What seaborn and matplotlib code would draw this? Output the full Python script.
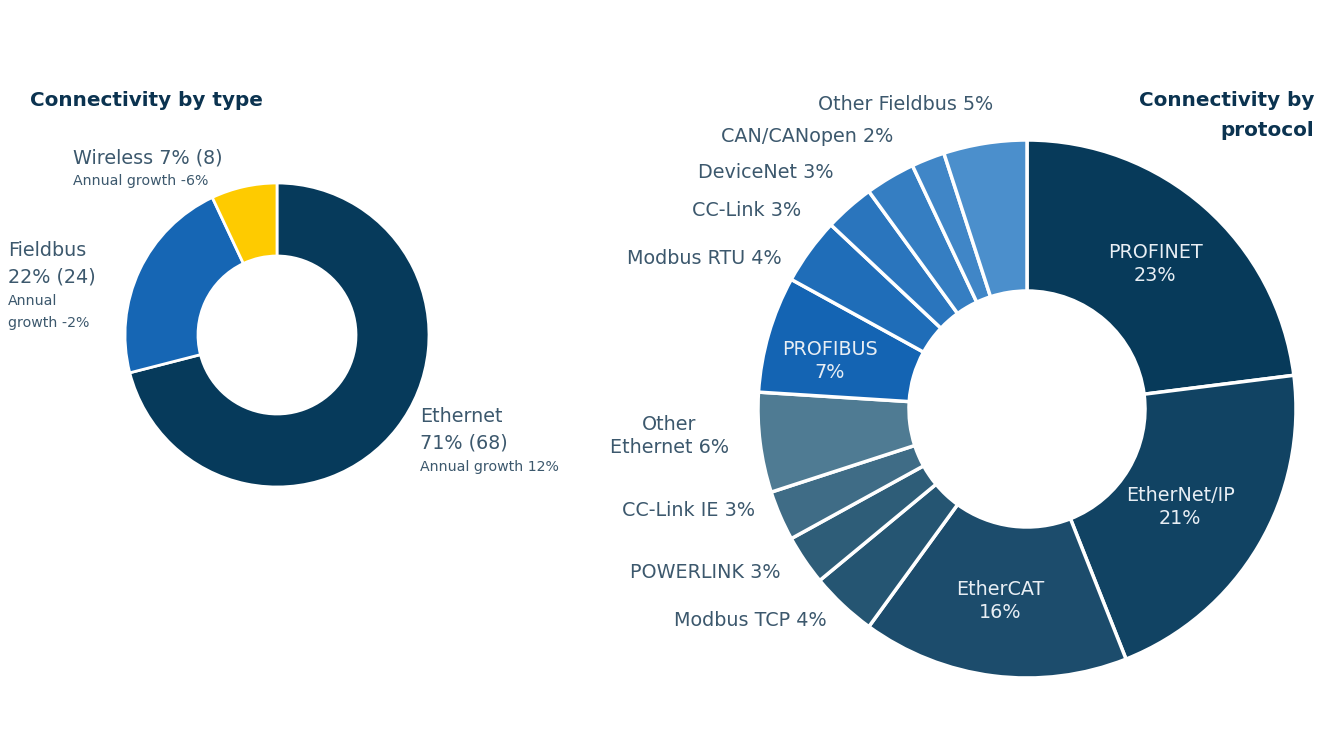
import matplotlib
matplotlib.use("Agg")
import matplotlib.pyplot as plt
import seaborn as sb

# Connectivity by type
type_names = ["Ethernet", "Fieldbus", "Wireless"]
type_share = [71, 22, 7]
type_prev = [68, 24, 8]
type_growth = [12, -2, -6]

# Connectivity by protocol (clockwise from top)
proto_names = ["PROFINET", "EtherNet/IP", "EtherCAT", "Modbus TCP", "POWERLINK",
               "CC-Link IE", "Other Ethernet", "PROFIBUS", "Modbus RTU", "CC-Link",
               "DeviceNet", "CAN/CANopen", "Other Fieldbus"]
proto_share = [23, 21, 16, 4, 3, 3, 6, 7, 4, 3, 3, 2, 5]

sb.set_theme(style="white")
plt.rcParams['font.family'] = ['DejaVu Sans']

TITLE = '#0b3350'
LABEL = '#3c586d'
FS = 13.8        # label size
FS_SMALL = 10.2  # "Annual growth" size
FS_TITLE = 14.4

type_colors = ['#063a5b', '#1666b4', '#fecb00']
eth_cols = sb.blend_palette(['#073a5a', '#1c4c6c', '#2e5d78', '#4f7b93'], 7)
fb_cols = sb.blend_palette(['#1464b3', '#4b8fcc'], 6)
proto_colors = list(eth_cols) + list(fb_cols)

fig = plt.figure(figsize=(13.2, 7.42), dpi=100)
ax = fig.add_axes([0, 0, 1, 1])

# axes in pixel units, y pointing down -> startangle -90 = top, counterclock = clockwise on screen
ax.pie(type_share, colors=type_colors, startangle=-90, counterclock=True,
       center=(277, 335), radius=152,
       wedgeprops=dict(width=73, edgecolor='white', linewidth=2))
ax.pie(proto_share, colors=proto_colors, startangle=-90, counterclock=True,
       center=(1027, 409), radius=269,
       wedgeprops=dict(width=151, edgecolor='white', linewidth=2.5))

ax.set_xlim(0, 1320)
ax.set_ylim(742, 0)
ax.set_aspect('equal')
ax.axis('off')

# titles
ax.text(30, 101, "Connectivity by type", fontsize=FS_TITLE, fontweight='bold', color=TITLE,
        ha='left', va='center')
ax.text(1314, 101, "Connectivity by", fontsize=FS_TITLE, fontweight='bold', color=TITLE,
        ha='right', va='center')
ax.text(1314, 130, "protocol", fontsize=FS_TITLE, fontweight='bold', color=TITLE,
        ha='right', va='center')

# left donut labels
ax.text(73, 158, f"{type_names[2]} {type_share[2]}% ({type_prev[2]})", fontsize=FS,
        color=LABEL, va='center')
ax.text(73, 181, f"Annual growth {type_growth[2]}%", fontsize=FS_SMALL, color=LABEL, va='center')
ax.text(8, 250, type_names[1], fontsize=FS, color=LABEL, va='center')
ax.text(8, 277, f"{type_share[1]}% ({type_prev[1]})", fontsize=FS, color=LABEL, va='center')
ax.text(8, 301, "Annual", fontsize=FS_SMALL, color=LABEL, va='center')
ax.text(8, 323, f"growth {type_growth[1]}%", fontsize=FS_SMALL, color=LABEL, va='center')
ax.text(420, 416, type_names[0], fontsize=FS, color=LABEL, va='center')
ax.text(420, 443, f"{type_share[0]}% ({type_prev[0]})", fontsize=FS, color=LABEL, va='center')
ax.text(420, 467, f"Annual growth {type_growth[0]}%", fontsize=FS_SMALL, color=LABEL, va='center')

# right donut: labels inside wedges (centre x, y)
inside = {"PROFINET": (1155, 264), "EtherNet/IP": (1180, 507),
          "EtherCAT": (1000, 601), "PROFIBUS": (830, 361)}
# right donut: labels outside (right edge x, y)
outside = {"Other Fieldbus": (993, 105), "CAN/CANopen": (893, 137),
           "DeviceNet": (833, 172), "CC-Link": (801, 210), "Modbus RTU": (782, 258),
           "CC-Link IE": (755, 510), "POWERLINK": (780, 572), "Modbus TCP": (827, 620)}

for name, share in zip(proto_names, proto_share):
    if name in inside:
        x, y = inside[name]
        ax.text(x, y, f"{name}\n{share}%", fontsize=FS, color='#e8eef4',
                ha='center', va='center', linespacing=1.25)
    elif name in outside:
        x, y = outside[name]
        ax.text(x, y, f"{name} {share}%", fontsize=FS, color=LABEL,
                ha='right', va='center')
    else:
        ax.text(669, 436, f"Other\nEthernet {share}%", fontsize=FS, color=LABEL,
                ha='center', va='center', linespacing=1.25)

fig.savefig("out.png", dpi=100, facecolor='white')
